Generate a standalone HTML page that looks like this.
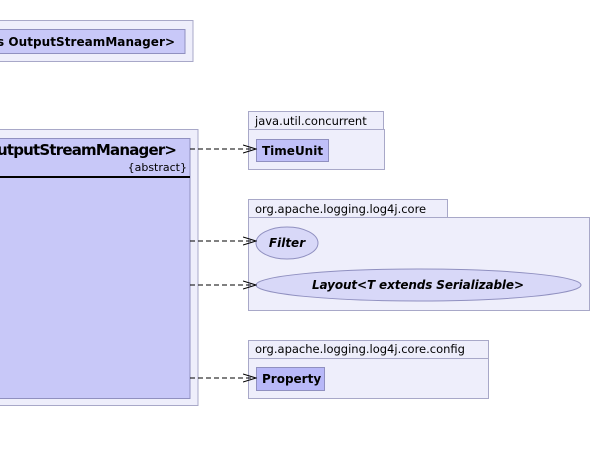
<!DOCTYPE html>
<html><head><style>body{margin:0;background:#fff}</style></head><body>
<svg width="592" height="444" xmlns="http://www.w3.org/2000/svg" font-family="'DejaVu Sans','Liberation Sans',sans-serif">
<defs><marker id="a" markerWidth="14" markerHeight="10" refX="13" refY="5" orient="auto" markerUnits="userSpaceOnUse"><path d="M0,1 L13,5 L0,9" fill="none" stroke="#000" stroke-width="1"/></marker></defs>
<!-- top box -->
<rect x="-5" y="20.5" width="198" height="41" fill="#eeeefb" stroke="#a8a8c8"/>
<rect x="-5" y="29.5" width="190" height="24" fill="#c8c8f8" stroke="#9090c0"/>
<text x="175" y="46" font-size="12" font-weight="bold" text-anchor="end" textLength="178">s OutputStreamManager&gt;</text>
<!-- main -->
<rect x="-5" y="129.5" width="203" height="276" fill="#eeeefb" stroke="#a8a8c8"/>
<rect x="-5" y="138.5" width="195" height="260" fill="#c8c8f8" stroke="#9090c0"/>
<text x="177" y="155" font-size="15" font-weight="bold" text-anchor="end" textLength="180">utputStreamManager&gt;</text>
<text x="187" y="171" font-size="11" text-anchor="end">{abstract}</text>
<line x1="-5" y1="177" x2="190" y2="177" stroke="#000" stroke-width="2"/>
<!-- java.util.concurrent -->
<rect x="248.5" y="111.5" width="135" height="18" fill="#eeeefb" stroke="#a8a8c8"/>
<rect x="248.5" y="129.5" width="136" height="40" fill="#eeeefb" stroke="#a8a8c8"/>
<text x="255" y="125" font-size="11.5">java.util.concurrent</text>
<rect x="256.5" y="139.5" width="72" height="22" fill="#c0c0f8" stroke="#9090c0"/>
<text x="262" y="155" font-size="12" font-weight="bold">TimeUnit</text>
<!-- core -->
<rect x="248.5" y="199.5" width="199" height="18" fill="#eeeefb" stroke="#a8a8c8"/>
<rect x="248.5" y="217.5" width="341" height="93" fill="#eeeefb" stroke="#a8a8c8"/>
<text x="255" y="213" font-size="11.5">org.apache.logging.log4j.core</text>
<ellipse cx="287" cy="243" rx="31" ry="16" fill="#d8d8f8" stroke="#9090c0"/>
<text x="287" y="247" font-size="12" font-weight="bold" font-style="italic" text-anchor="middle">Filter</text>
<ellipse cx="418.5" cy="285" rx="162.5" ry="16" fill="#d8d8f8" stroke="#9090c0"/>
<text x="418" y="289" font-size="12" font-weight="bold" font-style="italic" text-anchor="middle" textLength="212">Layout&lt;T extends Serializable&gt;</text>
<!-- config -->
<rect x="248.5" y="340.5" width="240" height="58" fill="#eeeefb" stroke="#a8a8c8"/>
<line x1="248.5" y1="358.5" x2="488.5" y2="358.5" stroke="#a8a8c8"/>
<text x="255" y="353" font-size="11.5">org.apache.logging.log4j.core.config</text>
<rect x="256.5" y="367.5" width="68" height="23" fill="#b8b8f8" stroke="#9090c0"/>
<text x="262" y="383" font-size="12" font-weight="bold">Property</text>
<!-- arrows -->
<g stroke="#000" stroke-dasharray="5,3" fill="none" marker-end="url(#a)">
<line x1="190" y1="149" x2="256" y2="149"/>
<line x1="190" y1="241" x2="256" y2="241"/>
<line x1="190" y1="285" x2="256" y2="285"/>
<line x1="190" y1="378" x2="256" y2="378"/>
</g>
</svg>
</body></html>
